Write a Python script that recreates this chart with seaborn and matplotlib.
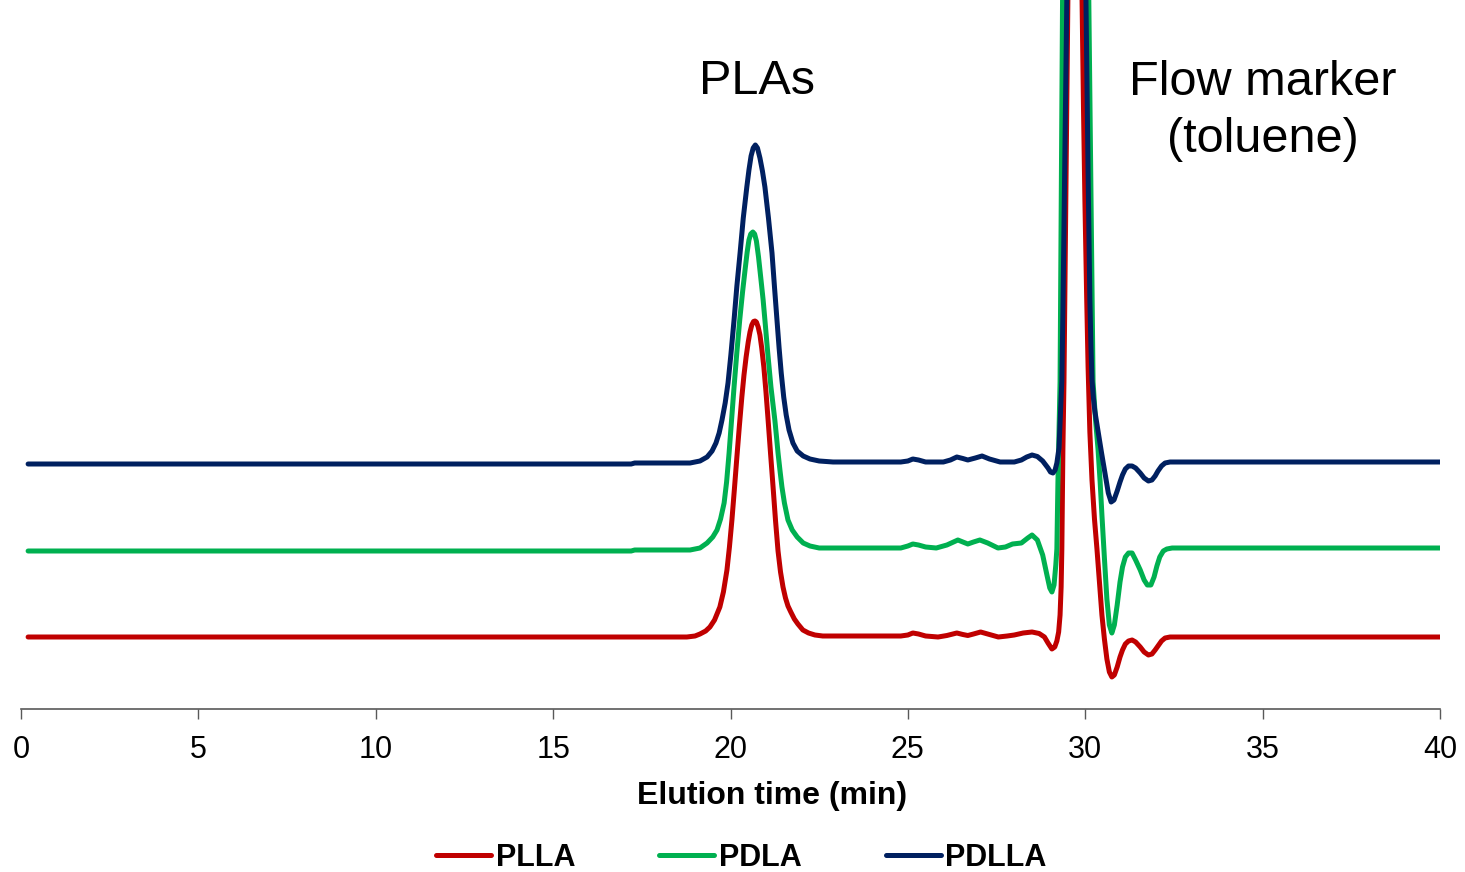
import matplotlib
matplotlib.use("Agg")
import matplotlib.pyplot as plt
from matplotlib.lines import Line2D
import numpy as np
import pandas as pd
import seaborn as sns

# GPC traces: elution time (min) and detector response (a.u., relative to each trace's baseline)
plla_time = [0.2, 17.0, 18.77, 19.00, 19.14, 19.30, 19.42, 19.55, 19.70, 19.80, 19.90, 19.97,
             20.04, 20.11, 20.18, 20.25, 20.32, 20.38, 20.44, 20.50, 20.55, 20.60, 20.65, 20.69,
             20.73, 20.78, 20.83, 20.88, 20.94, 21.00, 21.06, 21.13, 21.20, 21.27, 21.34, 21.41,
             21.48, 21.55, 21.62, 21.70, 21.80, 21.90, 22.04, 22.20, 22.38, 22.60,
             24.80, 25.00, 25.14, 25.30, 25.50, 25.85, 26.10, 26.38, 26.55, 26.69, 26.85, 27.05,
             27.25, 27.55, 27.80, 28.00, 28.25, 28.50, 28.70, 28.85, 28.95, 29.06, 29.14, 29.20,
             29.25, 29.29, 29.32, 29.34, 29.37, 29.40, 29.51, 29.72, 29.91, 29.95, 29.99, 30.04,
             30.08, 30.13, 30.19, 30.26, 30.33, 30.40, 30.47, 30.54, 30.61, 30.68, 30.75, 30.82,
             30.90, 30.98, 31.05, 31.13, 31.22, 31.32, 31.42, 31.55, 31.66, 31.78, 31.88, 31.97,
             32.05, 32.15, 32.25, 32.39, 40.0]
plla_signal = [0, 0, 0, 1, 3, 6, 10, 17, 30, 45, 67, 90,
               117, 148, 180, 211, 240, 262, 280, 295, 305, 312, 315.5, 316,
               315, 310, 302, 289, 270, 245, 217, 183, 150, 116, 86, 65,
               50, 39, 31, 25, 18, 13, 7, 4, 2, 1,
               1, 2, 4, 3, 1, 0, 1.5, 4, 2.5, 1.5, 3, 5,
               3, 0, 1, 2, 4, 5, 3.5, 0, -6, -12, -10, -4,
               5, 22, 50, 88, 188, 255, 637, 1300, 637, 530, 437, 340,
               270, 205, 157, 118, 88, 55, 22, -2, -22, -35, -40, -38,
               -30, -20, -13, -7, -4, -3, -5, -10, -15, -18, -17, -13,
               -9, -4, -1, 0, 0]

pdla_time = [0.2, 17.2, 17.3, 18.86, 19.00, 19.14, 19.34, 19.50, 19.62, 19.72, 19.82, 19.89,
             19.96, 20.03, 20.10, 20.18, 20.26, 20.34, 20.41, 20.47, 20.52, 20.57, 20.63, 20.68,
             20.73, 20.79, 20.86, 20.92, 20.97, 21.05, 21.14, 21.20, 21.25, 21.30, 21.34, 21.40,
             21.45, 21.52, 21.62, 21.74, 21.88, 22.05, 22.24, 22.50,
             24.80, 25.00, 25.14, 25.30, 25.50, 25.80, 26.10, 26.41, 26.55, 26.69, 26.85, 27.03,
             27.25, 27.54, 27.75, 27.95, 28.20, 28.38, 28.50, 28.65, 28.80, 28.92, 29.00, 29.06,
             29.12, 29.17, 29.20, 29.23, 29.29, 29.36, 29.72, 30.10, 30.16, 30.22, 30.29, 30.36,
             30.42, 30.47, 30.54, 30.61, 30.68, 30.75, 30.82, 30.90, 30.98, 31.05, 31.13, 31.22,
             31.32, 31.42, 31.55, 31.66, 31.75, 31.85, 31.94, 32.02, 32.10, 32.20, 32.30, 32.45,
             40.0]
pdla_signal = [-1, -1, 0, 0, 1, 2, 7, 13, 20, 31, 47, 68,
               97, 130, 163, 198, 230, 258, 280, 298, 310, 316, 318, 316,
               309, 293, 270, 250, 230, 197, 163, 145, 130, 112, 97, 78,
               63, 47, 30, 20, 13, 7, 4, 2,
               2, 4, 6, 5, 3, 2, 5, 10, 8, 6, 8, 10,
               7, 2, 3, 6, 7, 12, 15, 10, -5, -25, -38, -42,
               -35, -15, 1, 68, 168, 550, 1300, 550, 360, 168, 130, 101,
               68, 35, -8, -49, -75, -83, -75, -55, -32, -17, -7, -3,
               -3, -10, -20, -30, -35, -35, -27, -16, -7, -1, 1, 2,
               2]

pdlla_time = [0.2, 17.2, 17.3, 18.86, 19.00, 19.14, 19.34, 19.48, 19.59, 19.68, 19.76, 19.85,
              19.93, 20.01, 20.10, 20.18, 20.27, 20.36, 20.46, 20.52, 20.58, 20.64, 20.70, 20.76,
              20.83, 20.90, 20.97, 21.07, 21.17, 21.24, 21.31, 21.37, 21.43, 21.50, 21.57, 21.65,
              21.76, 21.88, 22.05, 22.24, 22.50, 22.89,
              24.80, 25.00, 25.14, 25.30, 25.50, 26.00, 26.20, 26.38, 26.55, 26.69, 26.90, 27.09,
              27.30, 27.60, 28.00, 28.20, 28.35, 28.50, 28.65, 28.80, 28.95, 29.02, 29.09, 29.15,
              29.20, 29.26, 29.34, 29.37, 29.48, 29.72, 30.02, 30.08, 30.13, 30.16, 30.19, 30.23,
              30.27, 30.36, 30.46, 30.56, 30.65, 30.73, 30.81, 30.90, 30.98, 31.05, 31.13, 31.22,
              31.32, 31.42, 31.55, 31.66, 31.78, 31.88, 31.97, 32.05, 32.15, 32.25, 32.39, 40.0]
pdlla_signal = [-1, -1, 0, 0, 1, 2, 6, 12, 20, 30, 43, 60,
                80, 108, 143, 177, 210, 245, 276, 293, 307, 315, 318, 315,
                305, 292, 276, 245, 210, 176, 143, 115, 90, 66, 48, 33,
                20, 12, 7, 4, 2, 1,
                1, 2, 4, 3, 1, 1, 3, 6, 4.5, 3, 5, 7,
                4, 1, 1, 3, 6, 8, 6.5, 2, -5, -9, -10, -7,
                0, 15, 82, 150, 463, 1300, 463, 290, 163, 118, 83, 65,
                52, 32, 10, -11, -30, -39, -37, -28, -19, -12, -6, -3,
                -3, -5, -10, -15, -18, -17, -13, -8, -3, 0, 1, 1]

samples = ["PLLA", "PDLA", "PDLLA"]
colors = {"PLLA": "#C00000", "PDLA": "#00B050", "PDLLA": "#002060"}
# vertical stacking offsets for the three traces
offsets = {"PLLA": 72, "PDLA": 159, "PDLLA": 246}

frames = []
for name, t, s in [("PLLA", plla_time, plla_signal),
                   ("PDLA", pdla_time, pdla_signal),
                   ("PDLLA", pdlla_time, pdlla_signal)]:
    frames.append(pd.DataFrame({"time": t,
                                "response": np.asarray(s, float) + offsets[name],
                                "sample": name}))
df = pd.concat(frames, ignore_index=True)

sns.set_theme(style="white")
plt.rcParams["font.family"] = ["Liberation Sans", "DejaVu Sans"]

fig = plt.figure(figsize=(14.65, 8.72), dpi=100)
ax = fig.add_axes([21 / 1465, 163 / 872, 1419 / 1465, 709 / 872])

sns.lineplot(data=df, x="time", y="response", hue="sample", hue_order=samples,
             palette=colors, estimator=None, sort=False, linewidth=3.6, ax=ax,
             legend=False)
for ln in ax.get_lines():
    ln.set_solid_joinstyle("round")
    ln.set_solid_capstyle("round")

ax.set_xlim(0, 40)
ax.set_ylim(0, 709)
ax.set_xticks(np.arange(0, 41, 5))
ax.set_yticks([])
ax.set_ylabel("")
for side in ["left", "right", "top"]:
    ax.spines[side].set_visible(False)
ax.spines["bottom"].set_color("#595959")
ax.spines["bottom"].set_linewidth(1.2)
ax.tick_params(axis="x", direction="out", length=7, width=1.0, color="#595959",
               labelsize=22, pad=12, labelcolor="black", bottom=True)

ax.set_xlabel("Elution time (min)", fontsize=23, fontweight="bold", color="black")
ax.xaxis.set_label_coords(0.529, -87 / 709)
ax.xaxis.label.set_va("center")

ax.text(20.75, 628, "PLAs", fontsize=35, ha="center", va="center", color="black")
ax.text(35.0, 598, "Flow marker\n(toluene)", fontsize=35, ha="center", va="center",
        color="black", linespacing=1.36)

handles = [Line2D([0], [0], color=colors[n], lw=3.6) for n in samples]
fig.legend(handles, samples, loc="center", bbox_to_anchor=(0.506, 0.016),
           ncol=3, frameon=False, handlelength=1.8, handletextpad=0.15,
           columnspacing=2.75, labelcolor="black",
           prop={"size": 22, "weight": "bold"})

fig.savefig("out.png", dpi=100)
